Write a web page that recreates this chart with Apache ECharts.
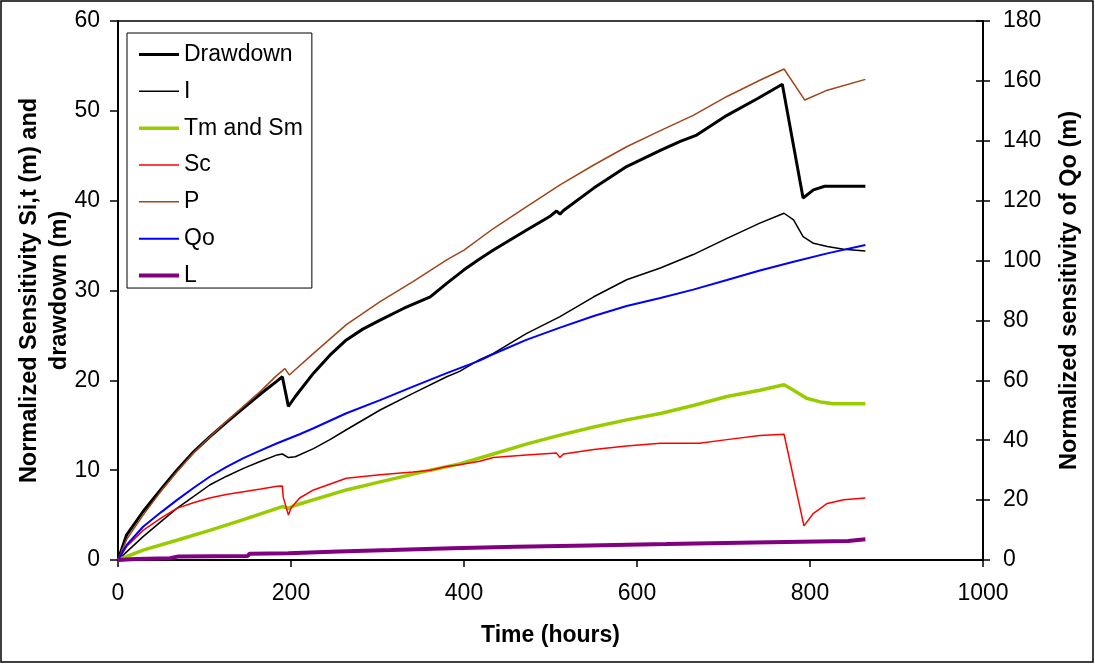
<!DOCTYPE html>
<html>
<head>
<meta charset="utf-8">
<script src="https://cdn.jsdelivr.net/npm/echarts@6/dist/echarts.min.js"></script>
<style>
html,body{margin:0;padding:0;background:#fff;}
#chart{width:1095px;height:664px;}
</style>
</head>
<body>
<div id="chart"></div>
<script>
// ---- data (time in hours) ----
const seriesNames = ['Drawdown', 'I', 'Tm and Sm', 'Sc', 'P', 'Qo', 'L'];
const xTicks = [0, 200, 400, 600, 800, 1000];

const drawdown = [[0,0],[10,2.8],[29,5.4],[50,7.9],[68,10.0],[88,12.1],[106,13.7],[125,15.3],[145,16.9],[165,18.5],[183,19.85],[190,20.4],[197,17.1],[205,18.2],[226,20.8],[245,22.8],[264,24.5],[283,25.7],[303,26.7],[330,28.0],[361,29.3],[380,30.8],[400,32.3],[418,33.5],[434,34.5],[472,36.7],[500,38.3],[507,38.85],[511,38.5],[515,38.9],[550,41.4],[588,43.8],[627,45.6],[650,46.6],[669,47.3],[704,49.5],[740,51.4],[768,52.96],[792,40.3],[804,41.2],[817,41.6],[864,41.6]];

const sensI = [[0,0],[10,0.9],[29,2.6],[50,4.3],[68,5.75],[88,7.1],[106,8.35],[125,9.3],[145,10.2],[165,11.0],[184,11.7],[190,11.8],[197,11.4],[205,11.5],[226,12.4],[245,13.4],[264,14.5],[303,16.7],[341,18.55],[380,20.4],[395,21.0],[418,22.3],[434,23.0],[472,25.2],[511,27.1],[550,29.3],[588,31.2],[627,32.5],[665,34.0],[704,35.8],[742,37.5],[770,38.6],[781,37.85],[792,36.0],[804,35.25],[820,34.9],[839,34.6],[864,34.4]];

const sensTmSm = [[0,0],[29,1.1],[68,2.2],[106,3.3],[145,4.5],[190,5.95],[197,5.75],[205,6.1],[264,7.8],[303,8.7],[361,10.0],[395,10.7],[434,11.8],[472,12.9],[511,13.9],[550,14.8],[588,15.6],[627,16.3],[665,17.2],[704,18.2],[742,18.9],[770,19.5],[781,18.9],[796,18.0],[812,17.6],[827,17.4],[864,17.4]];

const sensSc = [[0,0],[10,1.5],[29,3.3],[50,4.7],[68,5.75],[88,6.4],[106,6.9],[125,7.3],[145,7.6],[165,7.9],[184,8.2],[190,8.25],[191,7.0],[197,5.0],[200,5.8],[210,6.9],[226,7.8],[264,9.1],[303,9.5],[341,9.8],[361,10.0],[380,10.4],[395,10.6],[418,11.0],[434,11.4],[472,11.7],[507,11.9],[511,11.4],[515,11.8],[550,12.3],[588,12.7],[627,13.0],[672,13.0],[704,13.4],[742,13.85],[770,14.0],[793,3.8],[804,5.2],[820,6.3],[839,6.7],[864,6.9]];

const sensP = [[0,0],[10,2.3],[29,5.0],[50,7.7],[68,9.8],[88,12.0],[106,13.7],[125,15.4],[145,17.1],[165,18.8],[183,20.5],[193,21.3],[198,20.6],[226,23.0],[264,26.2],[303,28.75],[341,31.0],[380,33.4],[400,34.5],[434,36.9],[472,39.3],[511,41.75],[550,43.97],[588,46.0],[627,47.8],[665,49.5],[704,51.6],[742,53.4],[770,54.66],[794,51.2],[820,52.3],[864,53.5]];

const sensQo = [[0,0],[10,5.0],[29,11.1],[50,16.0],[68,20.0],[88,24.2],[106,27.8],[125,31.0],[145,34.0],[165,36.6],[184,39.0],[210,42.0],[226,44.0],[264,49.0],[303,53.4],[341,57.9],[380,62.4],[418,66.6],[434,68.8],[472,73.5],[511,77.6],[550,81.5],[588,84.8],[627,87.5],[665,90.3],[704,93.5],[742,96.7],[781,99.6],[820,102.4],[864,105.2]];

const sensL = [[0,0],[20,0.1],[60,0.2],[70,0.4],[150,0.45],[152,0.7],[197,0.75],[199,0.92],[255,0.95],[257,1.1],[316,1.12],[318,1.3],[386,1.32],[388,1.45],[460,1.47],[462,1.6],[544,1.62],[546,1.75],[634,1.77],[636,1.93],[736,1.95],[738,2.1],[844,2.12],[846,2.3],[864,2.3]];

const colors = ['#000000', '#000000', '#99cc00', '#ff0000', '#a0441a', '#0000ff', '#800080'];
const widths = [3, 1.5, 3.5, 1.5, 1.5, 2, 4];
const dataList = [drawdown, sensI, sensTmSm, sensSc, sensP, sensQo, sensL];
const axisIdx = [0, 0, 0, 0, 0, 1, 0];

const FONT = "'Liberation Sans', Arial, sans-serif";

const chart = echarts.init(document.getElementById('chart'), null, {renderer: 'canvas'});

const series = seriesNames.map((name, i) => ({
  name: name,
  type: 'line',
  yAxisIndex: axisIdx[i],
  data: dataList[i],
  symbol: 'none',
  showSymbol: false,
  smooth: false,
  lineStyle: {color: colors[i], width: widths[i]},
  itemStyle: {color: colors[i]},
  emphasis: {disabled: true}
}));

const legendData = seriesNames.map((name, i) => ({
  name: name,
  lineStyle: {color: colors[i], width: widths[i]},
  itemStyle: {opacity: 0, borderWidth: 0}
}));

chart.setOption({
  animation: false,
  backgroundColor: '#ffffff',
  textStyle: {fontFamily: FONT},
  grid: {
    left: 118, right: 112, top: 21, bottom: 104,
    show: true, borderColor: '#000', borderWidth: 1.5,
    containLabel: false, outerBoundsMode: 'none'
  },
  legend: {
    orient: 'vertical',
    left: 127, top: 33,
    padding: [10, 9, 1, 10],
    itemGap: 13.84,
    itemWidth: 40, itemHeight: 14,
    backgroundColor: '#fff',
    borderColor: '#000', borderWidth: 1,
    itemStyle: {opacity: 0, borderWidth: 0},
    data: legendData,
    textStyle: {fontFamily: FONT, fontSize: 23, color: '#000', lineHeight: 23}
  },
  xAxis: {
    type: 'value', min: 0, max: 1000, interval: 200,
    name: 'Time (hours)', nameLocation: 'middle', nameGap: 64,
    nameTextStyle: {fontFamily: FONT, fontSize: 23, fontWeight: 'bold', color: '#000'},
    axisLine: {show: true, onZero: false, lineStyle: {color: '#000', width: 2}},
    axisTick: {show: true, inside: false, length: 7, lineStyle: {color: '#000', width: 1.5}},
    axisLabel: {fontFamily: FONT, fontSize: 23, color: '#000', margin: 22,
      formatter: v => xTicks.includes(v) ? String(v) : ''},
    splitLine: {show: false}
  },
  yAxis: [
    {
      type: 'value', min: 0, max: 60, interval: 10, position: 'left', offset: 0,
      name: 'Normalized Sensitivity Si,t (m) and\ndrawdown (m)',
      nameLocation: 'middle', nameGap: 43, nameRotate: 90, nameMoveOverlap: false,
      nameTextStyle: {fontFamily: FONT, fontSize: 23.5, fontWeight: 'bold', color: '#000', lineHeight: 30},
      axisLine: {show: true, lineStyle: {color: '#000', width: 2}},
      axisTick: {show: true, inside: false, length: 8, lineStyle: {color: '#000', width: 1.5}},
      axisLabel: {fontFamily: FONT, fontSize: 23, color: '#000', margin: 18},
      splitLine: {show: false}
    },
    {
      type: 'value', min: 0, max: 180, interval: 20, position: 'right', offset: 0,
      name: 'Normalized sensitivity of Qo (m)',
      nameLocation: 'middle', nameGap: 72, nameRotate: 90, nameMoveOverlap: false,
      nameTextStyle: {fontFamily: FONT, fontSize: 23.5, fontWeight: 'bold', color: '#000', lineHeight: 30},
      axisLine: {show: true, lineStyle: {color: '#000', width: 2}},
      axisTick: {show: true, inside: false, length: 7, lineStyle: {color: '#000', width: 1.5}},
      axisLabel: {fontFamily: FONT, fontSize: 23, color: '#000', margin: 20, align: 'left'},
      splitLine: {show: false}
    },
    {
      type: 'value', min: 0, max: 180, interval: 20, position: 'right', offset: 0,
      axisLine: {show: false},
      axisTick: {show: true, inside: true, length: 7, lineStyle: {color: '#000', width: 1.5}},
      axisLabel: {show: false},
      splitLine: {show: false}
    }
  ],
  graphic: [{
    type: 'rect', silent: true, z: 100,
    shape: {x: 1, y: 1, width: 1092, height: 661},
    style: {fill: 'none', stroke: '#000', lineWidth: 1.5}
  }],
  series: series
});
</script>
</body>
</html>
